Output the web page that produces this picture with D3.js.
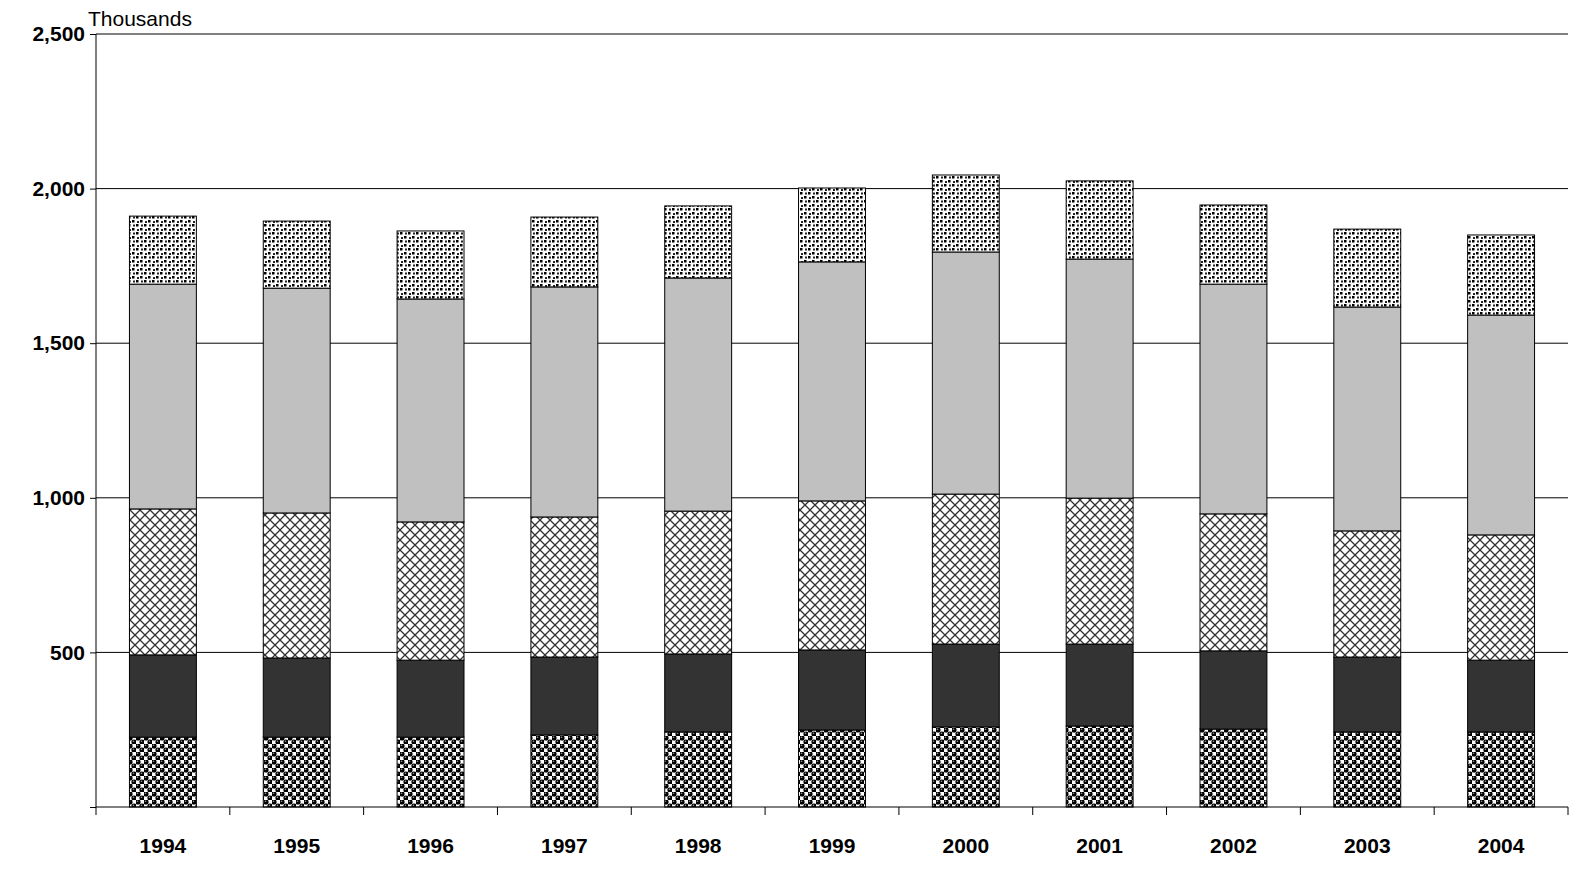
<!DOCTYPE html>
<html><head><meta charset="utf-8">
<script src="https://cdn.jsdelivr.net/npm/d3@7"></script>
<style>body{margin:0;background:#fff}</style></head>
<body><svg id="c" width="1590" height="871"></svg>
<script>
const years=["1994","1995","1996","1997","1998","1999","2000","2001","2002","2003","2004"];
const s1=[226,226,226,233,243,249,259,262,252,243,243];
const s2=[266,256,249,252,252,259,268,265,253,242,232];
const s3=[472,469,447,453,462,482,485,472,443,408,405];
const s4=[727,727,721,744,754,773,783,773,743,724,711];
const s5=[220,217,220,226,233,239,249,253,256,252,259];
const yTicks=[500,1000,1500,2000,2500];
const series=[s1,s2,s3,s4,s5];
const fills=["url(#pBalls)","#333333","url(#pCross)","#c0c0c0","url(#pDots)"];

const svg=d3.select("#c");
const defs=svg.append("defs");
// balls checker
let p=defs.append("pattern").attr("id","pBalls").attr("patternUnits","userSpaceOnUse").attr("width",8).attr("height",8);
p.append("rect").attr("width",8).attr("height",8).attr("fill","#fff");
p.append("circle").attr("cx",2).attr("cy",2).attr("r",2.6).attr("fill","#000");
p.append("circle").attr("cx",6).attr("cy",6).attr("r",2.6).attr("fill","#000");
p.append("circle").attr("cx",1.5).attr("cy",1.3).attr("r",0.8).attr("fill","#999");
p.append("circle").attr("cx",5.5).attr("cy",5.3).attr("r",0.8).attr("fill","#999");
// crosshatch
p=defs.append("pattern").attr("id","pCross").attr("patternUnits","userSpaceOnUse").attr("width",10).attr("height",10);
p.append("rect").attr("width",10).attr("height",10).attr("fill","#fff");
p.append("path").attr("d","M0,0L10,10M10,0L0,10").attr("stroke","#333").attr("stroke-width",1.3);
// dots
p=defs.append("pattern").attr("id","pDots").attr("patternUnits","userSpaceOnUse").attr("width",8).attr("height",8);
p.append("rect").attr("width",8).attr("height",8).attr("fill","#fff");
p.append("rect").attr("x",0).attr("y",0).attr("width",2.5).attr("height",2.5).attr("fill","#000");
p.append("rect").attr("x",4).attr("y",4).attr("width",2.5).attr("height",2.5).attr("fill","#000");
p.append("rect").attr("x",5).attr("y",0.5).attr("width",2).attr("height",2).attr("fill","#222");
p.append("rect").attr("x",1).attr("y",5).attr("width",2).attr("height",2).attr("fill","#222");

const L=96,R=1568,T=34,B=807;
const x=d3.scaleBand().domain(years).range([L,R]).paddingInner(0.5).paddingOuter(0.25);
const y=d3.scaleLinear().domain([0,2500]).range([B,T]);
const f="Arial, 'Liberation Sans', sans-serif";

svg.append("g").selectAll("line").data(yTicks).join("line")
 .attr("x1",L).attr("x2",R).attr("y1",d=>y(d)).attr("y2",d=>y(d)).attr("stroke","#000").attr("stroke-width",1);

const stacked=d3.stack().keys(d3.range(5))(years.map((yr,i)=>{const o={};series.forEach((s,k)=>o[k]=s[i]);return o;}));
stacked.forEach((layer,k)=>{
 svg.append("g").selectAll("rect").data(layer).join("rect")
  .attr("x",(d,i)=>x(years[i])).attr("width",x.bandwidth())
  .attr("y",d=>y(d[1])).attr("height",d=>y(d[0])-y(d[1]))
  .attr("fill",fills[k]).attr("stroke","#000").attr("stroke-width",1);
});

const ya=svg.append("g").attr("transform",`translate(${L},0)`).call(d3.axisLeft(y).tickValues([0,...yTicks]).tickSize(6).tickFormat(d=>d===0?"":d3.format(",")(d)));
ya.select(".domain").attr("d",`M0,${T}V${B}`);
ya.selectAll("text").attr("font-family",f).attr("font-size",21).attr("font-weight","bold").attr("fill","#000").attr("x",-11);

const xg=svg.append("g").attr("transform",`translate(0,${B})`);
xg.append("line").attr("x1",L).attr("x2",R).attr("stroke","#000");
const step=(R-L)/years.length;
xg.selectAll("line.t").data(d3.range(years.length+1)).join("line").attr("class","t")
 .attr("x1",i=>L+i*step).attr("x2",i=>L+i*step).attr("y1",0).attr("y2",8).attr("stroke","#000");
xg.selectAll("text").data(years).join("text").attr("x",d=>x(d)+x.bandwidth()/2).attr("y",46)
 .attr("text-anchor","middle").attr("font-family",f).attr("font-size",21).attr("font-weight","bold").text(d=>d);

svg.append("text").attr("x",88).attr("y",26).attr("font-family",f).attr("font-size",21).text("Thousands");
</script></body></html>
